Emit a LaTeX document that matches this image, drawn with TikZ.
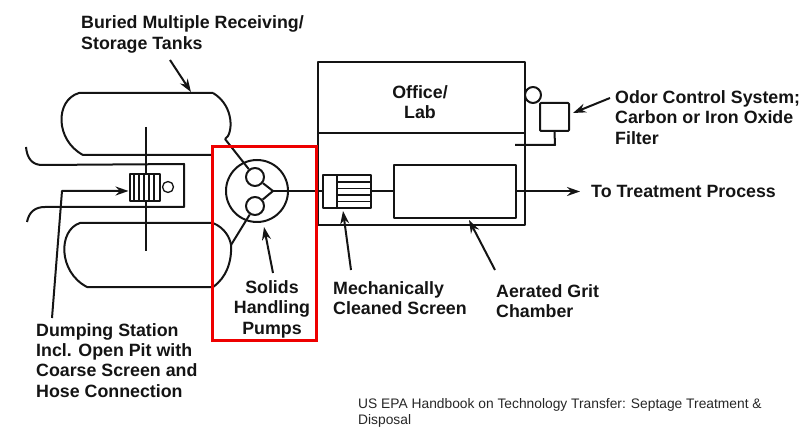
\documentclass[tikz,border=0pt]{standalone}
\usepackage{fontspec}
\setmainfont{Liberation Sans}
\usetikzlibrary{arrows.meta}
\tikzset{
  ink/.style={draw=black!92,line width=2pt,line join=round},
  thin ink/.style={draw=black!92,line width=1.3pt},
  pointer/.style={ink,-{Stealth[length=13pt,width=9pt]}},
  lbl/.style={font=\fontsize{17.8}{20.3}\selectfont\bfseries,text=black!92,align=left,anchor=north west,inner sep=0pt},
  lblc/.style={lbl,align=center,anchor=north},
  captxt/.style={font=\fontsize{13.8}{16.5}\selectfont,text=black!85,align=left,anchor=north west,inner sep=0pt}
}
\begin{document}
\begin{tikzpicture}[x=1pt,y=-1pt]
\useasboundingbox (0,0) rectangle (802,427);
% tanks
\draw[ink] (213,93) -- (79,93) .. controls (55,100) and (55,140) .. (83,155) -- (213,155);
\draw[ink] (213,93) .. controls (235,106) and (233,135) .. (225,139);
\draw[ink] (213,223) -- (80,223) .. controls (58,230) and (58,272) .. (87,287) -- (213,287);
\draw[ink] (213,223) .. controls (225,228) and (230,238) .. (231,245) .. controls (232,262) and (226,278) .. (213,287);
% dumping station
\draw[ink] (26,147) .. controls (27,158) and (32,165) .. (42,165) -- (184,164) -- (184,207) -- (45,207) .. controls (35,207) and (29,212) .. (27,222);
\draw[ink] (145.5,127) -- (145.5,251);
\node[ink,fill=white,minimum width=30pt,minimum height=27pt,inner sep=0pt] (scr) at (144.5,187.5) {};
\foreach \x in {134,139,144,149,154} \draw[thin ink] (\x,175) -- (\x,200);
\node[thin ink,circle,minimum size=11pt,inner sep=0pt] (plug) at (168,187) {};
\coordinate (dsfoot) at (52,318);
\coordinate (dsbend) at (62,191);
\draw[pointer] (dsfoot) -- (dsbend) -- (dsbend -| scr.west);
% pumps
\node[ink,circle,minimum size=62pt,inner sep=0pt] (pump) at (257,191) {};
\node[ink,circle,minimum size=18pt,inner sep=0pt] (p1) at (255,177) {};
\node[ink,circle,minimum size=18pt,inner sep=0pt] (p2) at (255,206) {};
\coordinate (j) at (273,191);
\draw[ink] (p1) -- (j) -- (p2);
\draw[ink] (225,139) -- (p1);
\draw[ink] (231,245) -- (p2);
% building
\node[ink,minimum width=207pt,minimum height=163pt,inner sep=0pt] (bld) at (421.5,143.5) {};
\draw[ink] (318,133) -- (525,133);
\node[ink,circle,minimum size=16pt,inner sep=0pt] (vent) at (533,95) {};
\node[ink,rounded corners=1pt,minimum width=29pt,minimum height=28pt,inner sep=0pt] (filt) at (554.5,117) {};
\draw[thin ink] (vent) -- (filt.north west);
\draw[ink] (filt.south) -- (555,145) -- (515,145);
% screen
\node[ink,minimum width=48pt,minimum height=33pt,inner sep=0pt] (ms) at (347,191.5) {};
\draw[ink] (337,175) -- (337,208);
\foreach \y in {182,188.5,195,201.5} \draw[thin ink] (337,\y) -- (371,\y);
\node[ink,minimum width=122pt,minimum height=53pt,inner sep=0pt] (grit) at (455,191.5) {};
\draw[ink] (j) -- (j -| ms.west);
\draw[ink] (ms.east) -- (grit.west);
\coordinate (tp) at (580,191.5);
\draw[pointer] (grit.east) -- (tp);
% red box
\node[draw={rgb,255:red,238;green,0;blue,0},line width=3pt,minimum width=104pt,minimum height=193pt,inner sep=0pt] (red) at (264.5,243.5) {};
% labels
\node[lbl,font=\fontsize{17.8}{21}\selectfont\bfseries] (l1) at (81,15) {Buried Multiple Receiving/\\Storage Tanks};
\node[lblc] (l2) at (420,85) {Office/\\Lab};
\node[lbl] (l3) at (615,90.5) {Odor Control System;\\Carbon or Iron Oxide\\Filter};
\node[lbl,anchor=west] (l4) at (591,191) {To Treatment Process};
\node[lblc] (l5) at (272,280.5) {Solids\\Handling\\Pumps};
\node[lbl] (l6) at (333,281) {Mechanically\\Cleaned Screen};
\node[lbl] (l7) at (496,284) {Aerated Grit\\Chamber};
\node[lbl] (l8) at (36,323) {Dumping Station\\Incl. Open Pit with\\Coarse Screen and\\Hose Connection};
\node[captxt] (c) at (358,398) {US EPA Handbook on Technology Transfer: Septage Treatment \&\\Disposal};
% pointers
\coordinate (a1) at (170,60); \coordinate (a1e) at (191,92);
\draw[pointer] (a1) -- (a1e);
\coordinate (a2) at (610,98); \coordinate (a2e) at (573,113);
\draw[pointer] (a2) -- (a2e);
\coordinate (a3) at (273,273); \coordinate (a3e) at (264,227);
\draw[pointer] (a3) -- (a3e);
\coordinate (a4) at (351,270); \coordinate (a4e) at (343,211);
\draw[pointer] (a4) -- (a4e);
\coordinate (a5) at (495,270); \coordinate (a5e) at (469,220);
\draw[pointer] (a5) -- (a5e);
\end{tikzpicture}
\end{document}
